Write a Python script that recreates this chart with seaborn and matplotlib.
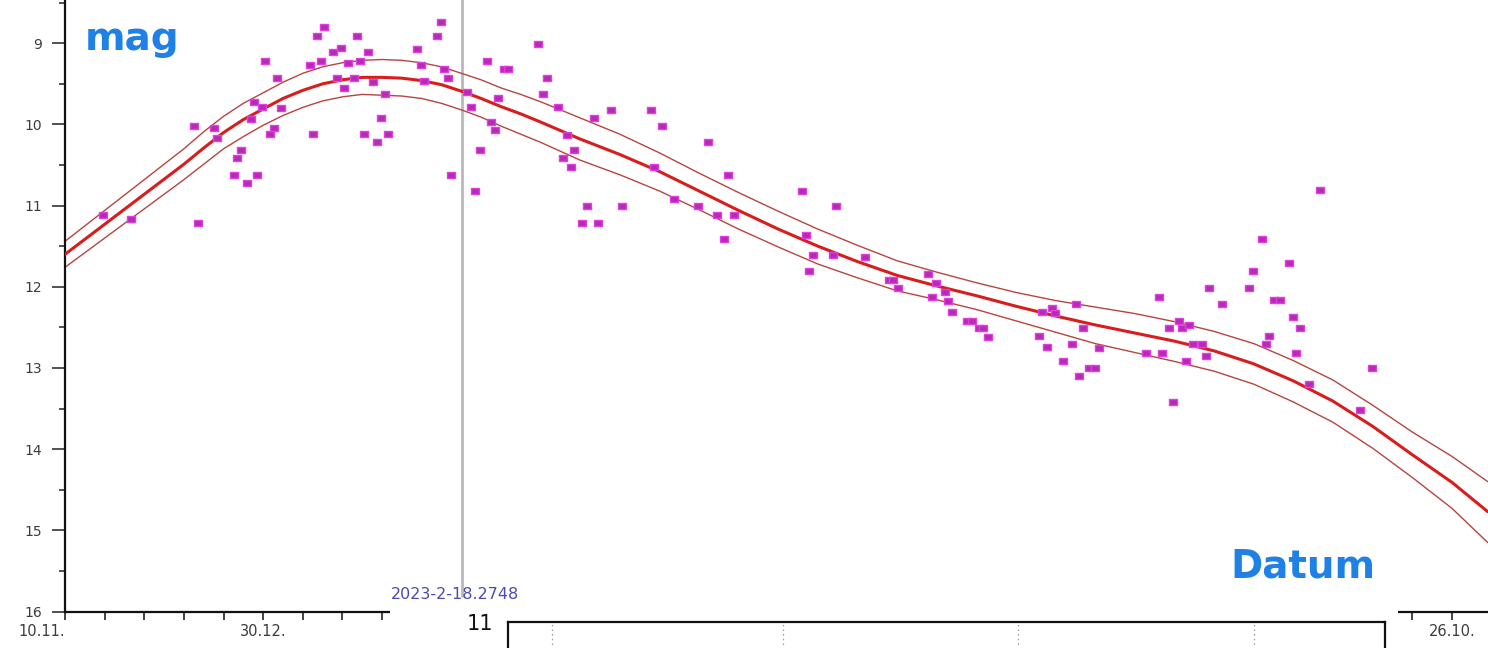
import matplotlib
matplotlib.use("Agg")
import matplotlib.pyplot as plt
from matplotlib.markers import MarkerStyle
from matplotlib.path import Path
from matplotlib.patches import Rectangle
import numpy as np
import seaborn as sns

# ---- observations: days after 2022-11-10 and visual magnitudes ----
obs_day = [9.6, 16.7, 32.6, 33.6, 37.6, 38.4, 42.6, 43.4, 44.4, 45.9, 48.4, 46.9, 47.7, 49.7,
           50.5, 51.7, 52.7, 53.5, 54.5, 61.8, 62.6, 63.6, 64.6, 65.4, 67.6, 68.6, 69.6, 70.4,
           71.4, 72.9, 73.7, 74.4, 75.4, 76.5, 77.7, 78.7, 79.7, 80.7, 81.5, 88.8, 89.8, 90.6,
           93.9, 94.9, 95.6, 96.6, 97.4, 101.4, 102.4, 103.5, 104.7, 106.5, 107.5, 108.5, 109.3,
           110.8, 111.8, 119.4, 120.6, 121.6, 124.4, 125.7, 126.7, 127.7, 128.4, 130.5, 131.7,
           133.5, 134.5, 137.8, 140.5, 147.9, 148.6, 150.6, 153.7, 159.7, 162.3, 164.5, 166.3,
           167.3, 168.8, 186.0, 187.0, 187.7, 188.7, 193.8, 194.5, 201.9, 207.9, 208.9, 210.2,
           217.8, 219.8, 222.1, 218.8, 222.8, 223.8, 227.6, 228.9, 230.6, 231.6, 232.9, 245.8,
           246.5, 247.8, 249.1, 249.8, 251.8, 254.1, 255.1, 255.9, 256.9, 258.4, 259.9, 260.9,
           272.8, 276.1, 276.8, 278.6, 279.6, 281.1, 281.9, 282.9, 283.6, 284.6, 286.9, 287.9,
           288.7, 292.0, 298.8, 299.8, 302.0, 303.0, 303.8, 305.1, 306.6, 308.9, 309.9, 310.6,
           311.6, 313.9, 316.7, 326.8, 329.8]
obs_mag = [11.11, 11.16, 10.02, 11.21, 10.04, 10.17, 10.62, 10.41, 10.31, 10.72, 10.62, 9.93, 9.72, 9.78,
           9.22, 10.12, 10.04, 9.43, 9.80, 9.27, 10.12, 8.91, 9.22, 8.80, 9.11, 9.43, 9.06, 9.55,
           9.24, 9.43, 8.91, 9.22, 10.12, 9.11, 9.48, 10.22, 9.92, 9.63, 10.12, 9.07, 9.27, 9.46,
           8.91, 8.74, 9.32, 9.43, 10.62, 9.60, 9.78, 10.82, 10.31, 9.22, 9.97, 10.07, 9.67,
           9.32, 9.32, 9.01, 9.63, 9.43, 9.79, 10.41, 10.13, 10.52, 10.31, 11.21, 11.01,
           9.92, 11.21, 9.82, 11.01, 9.82, 10.52, 10.02, 10.92, 11.01, 10.22, 11.11, 11.41,
           10.62, 11.11, 10.82, 11.36, 11.81, 11.61, 11.61, 11.01, 11.63, 11.92, 11.92, 12.01,
           11.84, 11.95, 12.06, 12.12, 12.17, 12.31, 12.42, 12.42, 12.51, 12.51, 12.62, 12.60,
           12.31, 12.74, 12.26, 12.32, 12.91, 12.70, 12.21, 13.10, 12.51, 13.00, 13.00, 12.75,
           12.81, 12.12, 12.81, 12.51, 13.42, 12.42, 12.51, 12.91, 12.47, 12.70, 12.70, 12.85,
           12.02, 12.21, 12.02, 11.81, 11.41, 12.70, 12.60, 12.16, 12.16, 11.71, 12.37, 12.81,
           12.51, 13.20, 10.81, 13.52, 13.00]

# ---- fitted light curve with its lower/upper envelope ----
fit_day = [0, 10, 20, 30, 35, 40, 45, 50, 55, 60, 65, 70, 75, 80, 85, 90, 95, 100, 105, 110, 115,
           120, 130, 140, 150, 160, 170, 180, 190, 200, 210, 220, 230, 240, 250, 260, 270, 280,
           290, 300, 310, 320, 330, 340, 350, 359]
fit_mag = [11.60, 11.23, 10.86, 10.49, 10.29, 10.10, 9.94, 9.81, 9.68, 9.58, 9.50, 9.45, 9.42, 9.42,
           9.43, 9.46, 9.51, 9.59, 9.68, 9.78, 9.87, 9.97, 10.18, 10.37, 10.58, 10.82, 11.06, 11.29,
           11.50, 11.69, 11.86, 11.99, 12.11, 12.24, 12.36, 12.47, 12.57, 12.67, 12.79, 12.95,
           13.16, 13.41, 13.72, 14.07, 14.41, 14.77]
fit_bright = [11.44, 11.06, 10.68, 10.30, 10.09, 9.90, 9.74, 9.61, 9.48, 9.37, 9.29, 9.24, 9.21, 9.20,
              9.21, 9.24, 9.29, 9.37, 9.45, 9.55, 9.63, 9.72, 9.92, 10.12, 10.35, 10.60, 10.84,
              11.07, 11.29, 11.49, 11.68, 11.82, 11.95, 12.07, 12.17, 12.25, 12.33, 12.43, 12.55,
              12.70, 12.91, 13.15, 13.46, 13.79, 14.09, 14.40]
fit_faint = [11.76, 11.40, 11.04, 10.68, 10.49, 10.30, 10.15, 10.01, 9.89, 9.79, 9.71, 9.66, 9.63,
             9.64, 9.65, 9.68, 9.74, 9.82, 9.91, 10.02, 10.12, 10.22, 10.44, 10.62, 10.82, 11.05,
             11.29, 11.51, 11.72, 11.89, 12.05, 12.16, 12.28, 12.42, 12.56, 12.70, 12.81, 12.92,
             13.04, 13.20, 13.42, 13.67, 13.99, 14.35, 14.73, 15.15]

# ---- marked epoch and axis labels ----
epoch_day = 100.2748
epoch_label = "2023-2-18.2748"
date_tick_days = [0, 50, 350]
date_tick_labels = ["10.11.", "30.12.", "26.10."]
mag_ticks = [9, 10, 11, 12, 13, 14, 15, 16]

sns.set_style("white")
plt.rcParams["font.family"] = ["DejaVu Sans"]

W, H = 1488, 648
fig = plt.figure(figsize=(W / 100, H / 100), dpi=100)
fig.patch.set_facecolor("white")
ax = fig.add_axes([65 / W, 36.5 / H, (W - 65) / W, 611.5 / H])

curve_red = "#d91c1c"
band_red = "#b8443f"
sns.lineplot(x=fit_day, y=fit_bright, ax=ax, color=band_red, lw=1.0, sort=False, estimator=None, zorder=2)
sns.lineplot(x=fit_day, y=fit_faint, ax=ax, color=band_red, lw=1.0, sort=False, estimator=None, zorder=2)
sns.lineplot(x=fit_day, y=fit_mag, ax=ax, color=curve_red, lw=2.2, sort=False, estimator=None, zorder=3)

# small oblong markers for the single estimates
rect = MarkerStyle(Path([(-1.0, -0.72), (1.0, -0.72), (1.0, 0.72), (-1.0, 0.72), (-1.0, -0.72)],
                        [Path.MOVETO, Path.LINETO, Path.LINETO, Path.LINETO, Path.CLOSEPOLY]))
sns.scatterplot(x=obs_day, y=obs_mag, ax=ax, marker=rect, s=26, color="#b62ab4",
                edgecolor="#e23ee2", linewidth=1.0, zorder=4, legend=False)

ax.axvline(epoch_day, ymin=0.025, ymax=1.0, color="#b9b9b9", lw=2.0, zorder=1)
ax.annotate(epoch_label, xy=(epoch_day, 0.0286), xycoords=("data", "axes fraction"),
            xytext=(-5, 0), textcoords="offset points", ha="center", va="center",
            fontsize=11.5, color="#4b4bb0", zorder=5)

ax.set_xlim(0, (W - 65) / 3.963)
ax.set_ylim(16.0, 8.467)

xt = np.arange(0, 360, 10)
lab = dict(zip(date_tick_days, date_tick_labels))
ax.set_xticks(xt)
ax.set_xticklabels([lab.get(int(d), "") for d in xt])
ax.set_yticks(mag_ticks)
ax.set_yticklabels([str(m) for m in mag_ticks])
ax.set_yticks(np.arange(8.5, 16, 1.0), minor=True)
ax.tick_params(axis="x", which="major", bottom=True, direction="out", length=6, width=1.2,
               color="#222222", labelsize=10.5, labelcolor="#3c3c3c", pad=3)
ax.tick_params(axis="y", which="major", left=True, direction="out", length=9.5, width=1.2,
               color="#333333", labelsize=10, labelcolor="#3c3c3c", pad=7)
ax.tick_params(axis="y", which="minor", left=True, direction="out", length=4.5, width=1.2,
               color="#333333")
ax.xaxis.get_majorticklabels()[0].set_horizontalalignment("right")
for side in ("top", "right"):
    ax.spines[side].set_visible(False)
for side in ("left", "bottom"):
    ax.spines[side].set_linewidth(1.6)
    ax.spines[side].set_color("#111111")
ax.set_xlabel("")
ax.set_ylabel("")

fig.text(85 / W, 1 - 50 / H, "mag", family="DejaVu Sans", weight="bold", fontsize=28,
         color="#1f80e6", va="baseline", ha="left")
fig.text(1230 / W, 1 - 578 / H, "Datum", family="DejaVu Sans", weight="bold", fontsize=28,
         color="#1f80e6", va="baseline", ha="left")

# white strip with the head of a second panel underneath
fig.patches.append(Rectangle((390 / W, 0), (1398 - 390) / W, (H - 603) / H,
                             transform=fig.transFigure, facecolor="white",
                             edgecolor="none", zorder=5))
sub = fig.add_axes([508 / W, (H - 622) / H - 0.1, (1385 - 508) / W, 0.1], zorder=6)
sub.set_facecolor("white")
sub.set_xlim(0, 1)
sub.set_ylim(10, 11)
sub.set_yticks([11])
sub.set_yticklabels(["11"])
sub.set_xticks([0.05, 0.314, 0.582, 0.851])
sub.set_xticklabels([])
sub.tick_params(axis="both", length=0, labelsize=15, labelcolor="#111111", pad=11)
sub.grid(axis="x", linestyle=(0, (1.2, 2.5)), color="#9a9a9a", lw=0.9)
sub.grid(axis="y", visible=False)
for side in ("top", "left", "right"):
    sub.spines[side].set_linewidth(1.6)
    sub.spines[side].set_color("#111111")
    sub.spines[side].set_visible(True)

fig.savefig("out.png", dpi=100, facecolor="white")
